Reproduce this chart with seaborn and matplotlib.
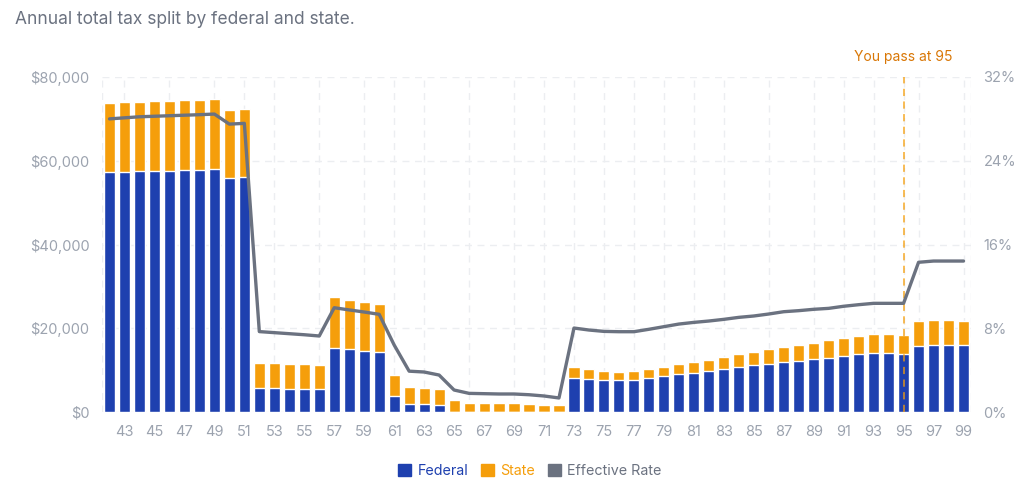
import matplotlib
matplotlib.use("Agg")
import matplotlib.pyplot as plt
from matplotlib.patches import Patch
from matplotlib.ticker import FuncFormatter
import numpy as np
import pandas as pd
import seaborn as sns

ages = list(range(42, 100))

federal = [57310, 57380, 57550, 57550, 57620, 57790, 57860, 57960, 55950, 56190,
           5730, 5650, 5570, 5490, 5420, 15360, 15040, 14640, 14330, 3820,
           1950, 1830, 1670, 0, 0, 0, 0, 0, 0, 0,
           0, 8200, 7880, 7570, 7570, 7720, 8200, 8520, 9000, 9390,
           9870, 10270, 10750, 11150, 11580, 11980, 12250, 12730, 12970, 13450,
           13770, 14090, 14090, 13930, 15840, 16000, 16000, 15920]

state = [16410, 16570, 16550, 16640, 16720, 16710, 16720, 16860, 16090, 16170,
         5970, 5980, 5890, 5900, 5800, 12030, 11780, 11630, 11390, 5020,
         4020, 3900, 3820, 2790, 2230, 2150, 2070, 2070, 1910, 1750,
         1590, 2470, 2270, 2150, 1980, 2000, 1990, 2300, 2390, 2480,
         2620, 2790, 3030, 3180, 3390, 3510, 3750, 3820, 4150, 4150,
         4310, 4460, 4460, 4460, 5820, 5900, 5900, 5880]

effective_rate = [28.0, 28.1, 28.2, 28.25, 28.3, 28.35, 28.4, 28.46, 27.5, 27.57,
                  7.68, 7.58, 7.48, 7.38, 7.26, 9.96, 9.75, 9.55, 9.33, 6.4,
                  3.9, 3.82, 3.53, 2.1, 1.78, 1.75, 1.72, 1.72, 1.65, 1.53,
                  1.34, 8.02, 7.83, 7.7, 7.67, 7.67, 7.9, 8.15, 8.4, 8.56,
                  8.69, 8.85, 9.04, 9.17, 9.36, 9.58, 9.68, 9.81, 9.9, 10.1,
                  10.25, 10.38, 10.38, 10.38, 14.3, 14.42, 14.42, 14.42]

pass_age = 95
xtick_ages = list(range(43, 100, 2))
grid_ages = [41.5, 43, 46, 49, 51, 53, 56, 59, 61, 63, 66, 69, 71, 73, 75, 77,
             79, 81, 83, 86, 89, 91, 93, 95, 96, 99, 99.5]

BLUE = "#1e40af"
ORANGE = "#f59e0b"
GRAY = "#6b7280"
TICK = "#9ca3af"
GRID = "#eceef1"

sns.set_theme(style="white")
plt.rcParams["font.family"] = ["Inter", "DejaVu Sans"]

df = pd.DataFrame({"age": ages, "federal": federal, "state": state, "rate": effective_rate})
df["total"] = df["federal"] + df["state"]

fig = plt.figure(figsize=(10.29, 4.92), dpi=100)
ax = fig.add_axes([102 / 1029, 1 - 412 / 492, 869 / 1029, 335 / 492])

sns.barplot(data=df, x="age", y="total", color=ORANGE, native_scale=True,
            width=0.74, saturation=1, ax=ax, zorder=2)
sns.barplot(data=df, x="age", y="federal", color=BLUE, native_scale=True,
            width=0.74, saturation=1, ax=ax, zorder=3)

ax.set_xlim(41.5, 99.5)
ax.set_ylim(0, 80000)
ax.set_yticks([0, 20000, 40000, 60000, 80000])
ax.yaxis.set_major_formatter(FuncFormatter(lambda v, p: "${:,.0f}".format(v)))
ax.set_xticks(xtick_ages)
ax.set_xticklabels([str(a) for a in xtick_ages])
ax.set_xlabel("")
ax.set_ylabel("")
ax.tick_params(axis="both", length=0, labelsize=10.5, colors=TICK)
ax.tick_params(axis="x", pad=9)
ax.tick_params(axis="y", pad=9)
for s in ax.spines.values():
    s.set_visible(False)

# dashed grid
for v in [0, 20000, 40000, 60000, 80000]:
    ax.axhline(v, color=GRID, lw=1, ls=(0, (5, 4)), zorder=0)
for g in grid_ages:
    ax.axvline(g, color=GRID, lw=1, ls=(0, (5, 4)), zorder=0)

ax.axvline(pass_age, color=ORANGE, lw=1.3, ls=(0, (4, 3)), alpha=0.75, zorder=4)
ax.text(pass_age, 83000, "You pass at {}".format(pass_age), color="#d97706",
        ha="center", va="bottom", fontsize=10)

ax2 = ax.twinx()
sns.lineplot(data=df, x="age", y="rate", color=GRAY, lw=2.4, ax=ax2, zorder=5)
ax2.set_ylim(0, 32)
ax2.set_yticks([0, 8, 16, 24, 32])
ax2.yaxis.set_major_formatter(FuncFormatter(lambda v, p: "{:.0f}%".format(v)))
ax2.set_ylabel("")
ax2.tick_params(axis="y", length=0, labelsize=10.5, colors=TICK, pad=9)
for s in ax2.spines.values():
    s.set_visible(False)
ax2.set_xlim(41.5, 99.5)

fig.text(15 / 1029, 1 - 20 / 492, "Annual total tax split by federal and state.",
         color=GRAY, fontsize=12.5, ha="left", va="center")

handles = [Patch(color=BLUE, label="Federal"), Patch(color=ORANGE, label="State"),
           Patch(color=GRAY, label="Effective Rate")]
fig.legend(handles=handles, loc="center", bbox_to_anchor=(530 / 1029, 1 - 471 / 492),
           ncol=3, frameon=False, fontsize=10.3, handlelength=0.9, handleheight=0.9,
           handletextpad=0.45, columnspacing=0.9, labelcolor=[BLUE, ORANGE, GRAY])

fig.savefig("out.png", dpi=100)
